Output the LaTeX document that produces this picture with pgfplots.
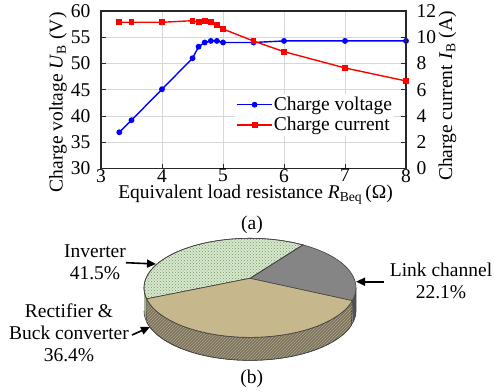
\documentclass[border=0pt]{standalone}
\usepackage{fontspec}
\setmainfont{Liberation Serif}
\usepackage{pgfplots}
\pgfplotsset{compat=1.18}
\usetikzlibrary{arrows.meta,patterns}

\definecolor{vblue}{RGB}{0,0,255}
\definecolor{cred}{RGB}{255,0,0}
\definecolor{gridgray}{RGB}{215,215,215}
\definecolor{axgray}{RGB}{40,40,40}
\definecolor{invfill}{RGB}{218,231,207}
\definecolor{invdots}{RGB}{105,158,95}
\definecolor{invside}{RGB}{165,180,150}
\definecolor{tantop}{RGB}{198,184,140}
\definecolor{tanside}{RGB}{128,115,80}
\definecolor{linktop}{RGB}{133,133,133}
\definecolor{linkside}{RGB}{80,80,80}

% measured charge voltage and current versus equivalent load resistance
\pgfplotstableread{
R    U     I
3.3  36.9  11.14
3.5  39.2  11.14
4.0  45.1  11.14
4.5  51.0  11.26
4.6  53.2  11.14
4.7  54.0  11.26
4.8  54.3  11.14
4.9  54.3  10.93
5.0  54.0  10.63
5.5  54.0  9.71
6.0  54.3  8.90
7.0  54.3  7.66
8.0  54.3  6.67
}\chargedata

% loss breakdown (percent)
\def\pLink{22.1}
\def\pInv{41.5}
\def\pRect{36.4}

% pie geometry: centre, radii, perspective factor, thickness
\def\cx{250}\def\cy{112.7}\def\ra{104}\def\rb{47.7}\def\pk{0.192}\def\dep{23}

\begin{document}
\fontsize{19.5}{22}\selectfont
\begin{tikzpicture}[font=\fontsize{19.5}{22}\selectfont]
\useasboundingbox (0,0) rectangle (494pt,391pt);

\pgfmathsetmacro{\aA}{-25.5}
\pgfmathsetmacro{\aB}{\aA+3.6*\pLink}
\pgfmathsetmacro{\aC}{\aB+3.6*\pInv}
\pgfmathsetmacro{\aD}{\aC+3.6*\pRect}
\pgfmathsetmacro{\sL}{180+asin(\pk)}
\pgfmathsetmacro{\sR}{360-asin(\pk)}

\pgfplotsset{
  chargeaxis/.style={
    at={(101pt,222.5pt)}, anchor=south west,
    scale only axis, width=305pt, height=157.5pt,
    xmin=3, xmax=8,
    axis line style={line width=1.1pt, axgray},
    tick style={line width=0.9pt, axgray},
    major tick length=5pt,
    /pgf/number format/assume math mode=true,
  },
}

% left axis: charge voltage
\begin{axis}[
  chargeaxis,
  ymin=30, ymax=60,
  xtick={3,4,...,8}, ytick={30,35,...,60},
  xtick pos=left, ytick pos=left,
  grid=major, grid style={gridgray, line width=0.8pt},
  yticklabel style={xshift=-4pt},
  xticklabel style={inner sep=0pt, yshift=-0.5pt},
  xlabel={Equivalent load resistance \textit{R}\textsubscript{Beq}\,(Ω)},
  ylabel={Charge voltage \textit{U}\textsubscript{B} (V)},
  xlabel style={at={(axis description cs:0.507,-0.168)}, anchor=center, inner sep=0pt},
  ylabel style={at={(axis description cs:-0.141,0.42)}, anchor=center},
]
\addplot[vblue, line width=1.4pt, mark=*, mark size=2.2pt] table[x=R, y=U] {\chargedata};
\end{axis}

% right axis: charge current
\begin{axis}[
  chargeaxis,
  ymin=0, ymax=12, ytick={0,2,...,12},
  axis x line=none, axis y line*=right,
  yticklabel style={xshift=4pt},
  ylabel={Charge current \textit{I}\textsubscript{B} (A)},
  ylabel style={at={(axis description cs:1.136,0.46)}, anchor=center},
  legend style={at={(axis description cs:0.44,0.34)}, anchor=west,
    draw=none, fill=white, inner sep=1pt, row sep=1pt,
    nodes={inner xsep=1pt, inner ysep=1.5pt}},
  legend cell align=left,
  legend image code/.code={%
    \draw[mark repeat=2, mark phase=2, #1] plot coordinates {(0pt,0pt) (17.5pt,0pt) (35pt,0pt)};},
]
\addlegendimage{vblue, line width=1.4pt, mark=*, mark size=2.2pt}
\addlegendentry{Charge voltage}
\addplot[cred, line width=1.4pt, mark=square*, mark size=2.2pt] table[x=R, y=I] {\chargedata};
\addlegendentry{Charge current}
\end{axis}

% 3-D pie of the loss breakdown
\begin{axis}[
  at={(0pt,0pt)}, anchor=south west,
  scale only axis, width=494pt, height=391pt,
  xmin=0, xmax=494, ymin=0, ymax=391,
  hide axis, clip=false,
]
% side wall pieces: upper rim forward, lower rim back
\addplot[fill=invside, draw=black!75, line width=0.6pt, domain=0:2, samples=41, variable=\s]
  ({\cx+\ra*cos(\sL+(\aC-\sL)*(1-abs(\s-1)))/(1+\pk*sin(\sL+(\aC-\sL)*(1-abs(\s-1))))},
   {\cy-\dep*(\s>1)+\rb*sin(\sL+(\aC-\sL)*(1-abs(\s-1)))/(1+\pk*sin(\sL+(\aC-\sL)*(1-abs(\s-1))))});
\addplot[fill=tanside, postaction={pattern=north east lines, pattern color=black!35},
  draw=black!75, line width=0.6pt, domain=0:2, samples=201, variable=\s]
  ({\cx+\ra*cos(\aC+(\aD-\aC)*(1-abs(\s-1)))/(1+\pk*sin(\aC+(\aD-\aC)*(1-abs(\s-1))))},
   {\cy-\dep*(\s>1)+\rb*sin(\aC+(\aD-\aC)*(1-abs(\s-1)))/(1+\pk*sin(\aC+(\aD-\aC)*(1-abs(\s-1))))});
\addplot[fill=linkside, draw=black!75, line width=0.6pt, domain=0:2, samples=41, variable=\s]
  ({\cx+\ra*cos(\aD+(\sR-\aD)*(1-abs(\s-1)))/(1+\pk*sin(\aD+(\sR-\aD)*(1-abs(\s-1))))},
   {\cy-\dep*(\s>1)+\rb*sin(\aD+(\sR-\aD)*(1-abs(\s-1)))/(1+\pk*sin(\aD+(\sR-\aD)*(1-abs(\s-1))))});

% top face sectors (parameter values outside 0..1 sit on the centre)
\addplot[fill=linktop, draw=black!75, line width=0.6pt, domain=-0.1:1.1, samples=121, variable=\s]
  ({\cx+(\s>=0)*(\s<=1)*\ra*cos(\aA+(\aB-\aA)*min(max(\s,0),1))/(1+\pk*sin(\aA+(\aB-\aA)*min(max(\s,0),1)))},
   {\cy+(\s>=0)*(\s<=1)*\rb*sin(\aA+(\aB-\aA)*min(max(\s,0),1))/(1+\pk*sin(\aA+(\aB-\aA)*min(max(\s,0),1)))});
\addplot[fill=invfill, postaction={pattern=crosshatch dots, pattern color=invdots},
  draw=black!75, line width=0.6pt, domain=-0.1:1.1, samples=121, variable=\s]
  ({\cx+(\s>=0)*(\s<=1)*\ra*cos(\aB+(\aC-\aB)*min(max(\s,0),1))/(1+\pk*sin(\aB+(\aC-\aB)*min(max(\s,0),1)))},
   {\cy+(\s>=0)*(\s<=1)*\rb*sin(\aB+(\aC-\aB)*min(max(\s,0),1))/(1+\pk*sin(\aB+(\aC-\aB)*min(max(\s,0),1)))});
\addplot[fill=tantop, draw=black!75, line width=0.6pt, domain=-0.1:1.1, samples=121, variable=\s]
  ({\cx+(\s>=0)*(\s<=1)*\ra*cos(\aC+(\aD-\aC)*min(max(\s,0),1))/(1+\pk*sin(\aC+(\aD-\aC)*min(max(\s,0),1)))},
   {\cy+(\s>=0)*(\s<=1)*\rb*sin(\aC+(\aD-\aC)*min(max(\s,0),1))/(1+\pk*sin(\aC+(\aD-\aC)*min(max(\s,0),1)))});

% labels and pointers
\node[align=center] at (axis cs:95,128.5) {Inverter\\41.5\%};
\node[align=center] at (axis cs:69,58) {Rectifier \&\\Buck converter\\36.4\%};
\node[align=center] at (axis cs:441,110) {Link channel\\22.1\%};
\draw[-{Triangle[length=9pt,width=8pt]}, line width=1.6pt] (axis cs:126,128.3) -- (axis cs:156,127);
\draw[-{Triangle[length=9pt,width=8pt]}, line width=1.6pt] (axis cs:132,56) -- (axis cs:150,64);
\draw[-{Triangle[length=9pt,width=8pt]}, line width=1.6pt] (axis cs:384,109.3) -- (axis cs:356,109.3);
\node at (axis cs:252,166) {(a)};
\node at (axis cs:251.7,11.7) {(b)};
\end{axis}
\end{tikzpicture}
\end{document}
